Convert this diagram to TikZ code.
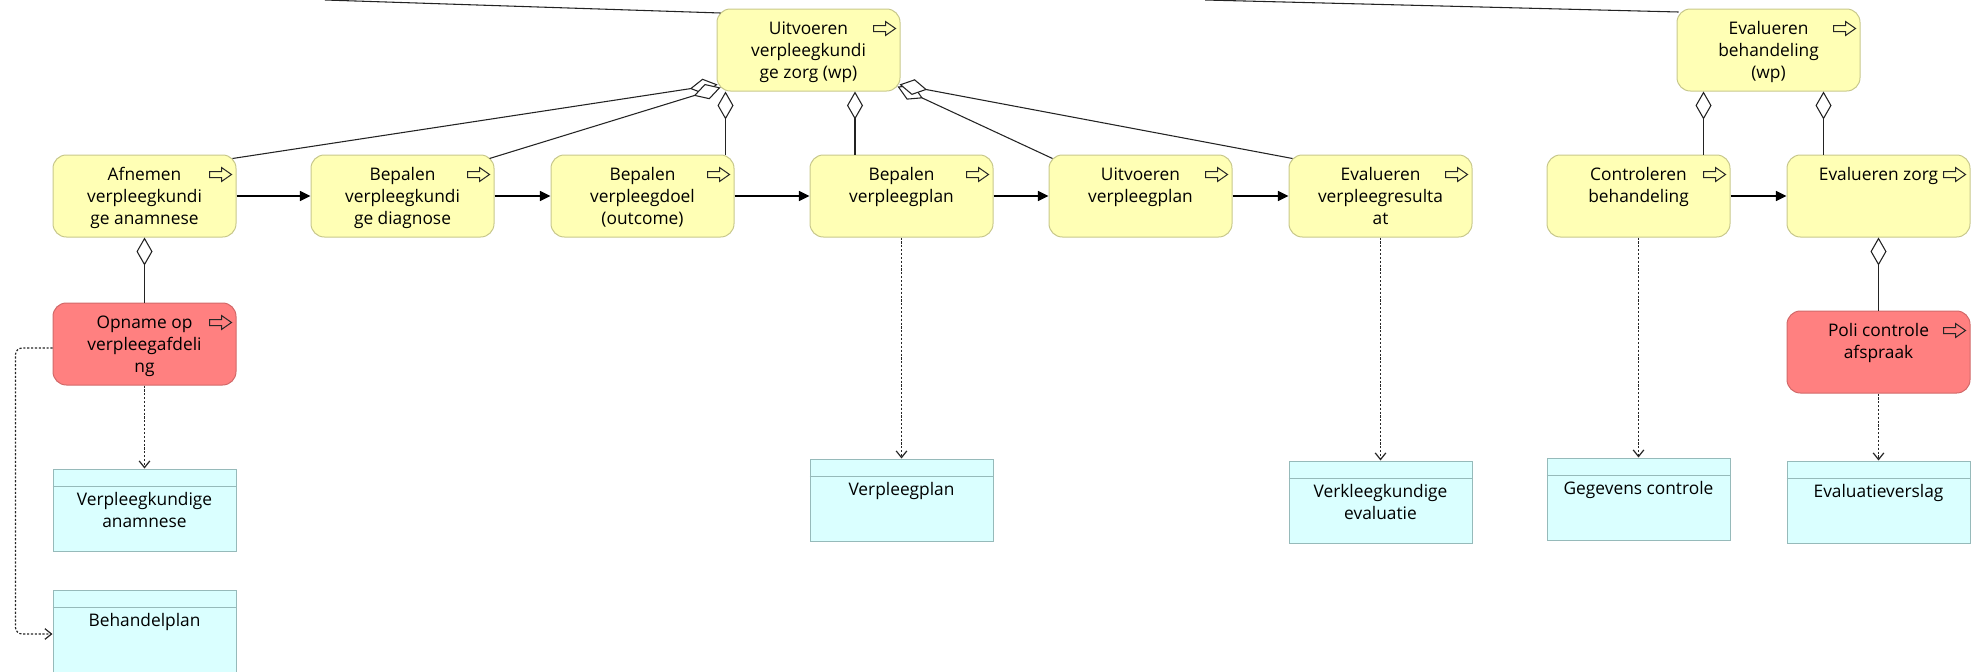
\documentclass[tikz,border=0pt]{standalone}
\usepackage{fontspec}
\setmainfont{Open Sans}
\usetikzlibrary{arrows.meta,calc}

\definecolor{procfill}{RGB}{255,255,181}
\definecolor{procline}{RGB}{200,200,140}
\definecolor{evfill}{RGB}{255,128,128}
\definecolor{evline}{RGB}{210,105,105}
\definecolor{datafill}{RGB}{218,255,255}
\definecolor{dataline}{RGB}{150,186,186}
\definecolor{linkcol}{RGB}{35,35,35}

% text block: first baseline is the reference point
\newcommand\boxlines[1]{\begin{minipage}[t]{134pt}\fontsize{13pt}{16.7pt}\selectfont\centering #1\end{minipage}}

\tikzset{
  x=0.75pt, y=-0.75pt,
  basebox/.style={minimum width=137.25pt, minimum height=61.5pt, inner sep=0pt, line width=0.75pt},
  procbox/.style={basebox, draw=procline, fill=procfill, rounded corners=10pt},
  evbox/.style={basebox, draw=evline, fill=evfill, rounded corners=10pt},
  databox/.style={basebox, draw=dataline, fill=datafill},
  lbl/.style={anchor=base, inner sep=0pt, text=black},
  icon/.style={draw=black!85, line width=0.75pt, line join=miter},
  flow/.style={draw=black, line width=1.1pt, -{Triangle[length=8pt,width=7.5pt]}},
  agg/.style={draw=linkcol, line width=0.8pt, -{Diamond[length=21pt,width=12pt,fill=white]}},
  plainlink/.style={draw=linkcol, line width=0.8pt},
  access/.style={draw=black!85, line width=0.9pt, dash pattern=on 1.6pt off 1.3pt,
                 -{Straight Barb[length=5pt,width=8pt]}},
}

% process / event box with its top-aligned label and arrow icon
\newcommand\actnode[5]{%
  \node[#1] (#2) at (#3,#4) {};
  \node[lbl] (#2-t) at ($(#2.north)+(0,25.6)$) {\boxlines{#5}};
  \draw[icon, shift={($(#2.north east)+(-27,20)$)}]
    (0,-3) -- (12,-3) -- (12,-7) -- (22,0) -- (12,7) -- (12,3) -- (0,3) -- cycle;
}
% data object with header band
\newcommand\datanode[4]{%
  \node[databox] (#1) at (#2,#3) {};
  \draw[draw=dataline, line width=0.75pt] ($(#1.north west)+(0,18)$) -- ($(#1.north east)+(0,18)$);
  \node[lbl] (#1-t) at ($(#1.north)+(0,37)$) {\boxlines{#4}};
}

\begin{document}
\begin{tikzpicture}
\useasboundingbox (0,0) rectangle (1977,671);

% parent processes
\actnode{procbox}{U0}{808.5}{50}{Uitvoeren\\verpleegkundi\\ge zorg (wp)}
\actnode{procbox}{EB}{1768.5}{50}{Evalueren\\behandeling\\(wp)}

% process chain
\actnode{procbox}{A1}{144.5}{196}{Afnemen\\verpleegkundi\\ge anamnese}
\actnode{procbox}{A2}{402.5}{196}{Bepalen\\verpleegkundi\\ge diagnose}
\actnode{procbox}{A3}{642.5}{196}{Bepalen\\verpleegdoel\\(outcome)}
\actnode{procbox}{A4}{901.5}{196}{Bepalen\\verpleegplan}
\actnode{procbox}{A5}{1140.5}{196}{Uitvoeren\\verpleegplan}
\actnode{procbox}{A6}{1380.5}{196}{Evalueren\\verpleegresulta\\at}
\actnode{procbox}{A7}{1638.5}{196}{Controleren\\behandeling}
\actnode{procbox}{A8}{1878.5}{196}{Evalueren zorg}

% events
\actnode{evbox}{R1}{144.5}{344}{Opname op\\verpleegafdeli\\ng}
\actnode{evbox}{R2}{1878.5}{352}{Poli controle\\afspraak}

% data objects
\datanode{C1}{144.5}{510}{Verpleegkundige\\anamnese}
\datanode{C2}{144.5}{631}{Behandelplan}
\datanode{C3}{901.5}{500}{Verpleegplan}
\datanode{C4}{1380.5}{502}{Verkleegkundige\\evaluatie}
\datanode{C5}{1638.5}{499}{Gegevens controle}
\datanode{C6}{1878.5}{502}{Evaluatieverslag}

% links entering from above
\coordinate (ext1) at (325,0);
\coordinate (ext2) at (1205,0);
\draw[plainlink] (ext1) -- ($(U0.north west)+(4,4.5)$);
\draw[plainlink] (ext2) -- ($(EB.north west)+(2,3.5)$);

% aggregation into the parent processes
\draw[agg] ($(A1.north east)+(-4,4)$) -- ($(U0.south west)+(1,-7)$);
\draw[agg] ($(A2.north east)+(-5,4)$) -- ($(U0.south west)+(4,-4)$);
\coordinate (m3) at ($(U0.south west)!0.5!(A3.north east)$);
\draw[agg] (m3 |- A3.north) -- (m3 |- U0.south);
\coordinate (m4) at ($(U0.south east)!0.5!(A4.north west)$);
\draw[agg] (m4 |- A4.north) -- (m4 |- U0.south);
\draw[agg] ($(A5.north west)+(4,4)$) -- ($(U0.south east)+(-3,-5)$);
\draw[agg] ($(A6.north west)+(4,4)$) -- ($(U0.south east)+(-1,-7)$);
\coordinate (m7) at ($(EB.south west)!0.5!(A7.north east)$);
\draw[agg] (m7 |- A7.north) -- (m7 |- EB.south);
\coordinate (m8) at ($(EB.south east)!0.5!(A8.north west)$);
\draw[agg] (m8 |- A8.north) -- (m8 |- EB.south);
\draw[agg] (R1.north) -- (A1.south);
\draw[agg] (R2.north) -- (A8.south);

% triggering flow
\draw[flow] (A1.east) -- (A2.west);
\draw[flow] (A2.east) -- (A3.west);
\draw[flow] (A3.east) -- (A4.west);
\draw[flow] (A4.east) -- (A5.west);
\draw[flow] (A5.east) -- (A6.west);
\draw[flow] (A7.east) -- (A8.west);

% access to data
\draw[access] (R1.south) -- (C1.north);
\draw[access, rounded corners=5pt] ($(R1.west)+(0,4)$) -- ++(-37,0) |- ($(C2.west)+(0,3)$);
\draw[access] (A4.south) -- (C3.north);
\draw[access] (A6.south) -- (C4.north);
\draw[access] (A7.south) -- (C5.north);
\draw[access] (R2.south) -- (C6.north);
\end{tikzpicture}
\end{document}
